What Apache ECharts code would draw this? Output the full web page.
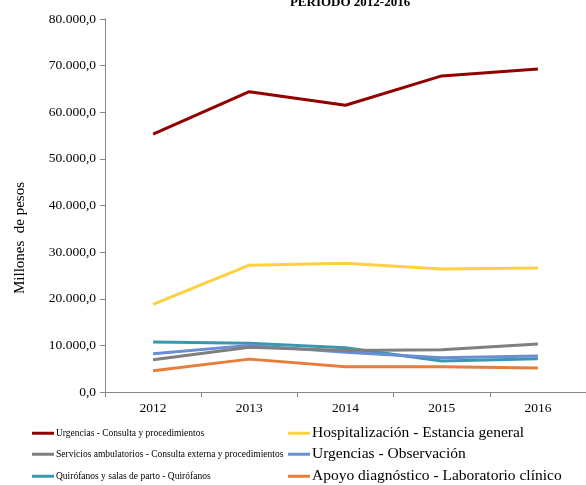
<!DOCTYPE html>
<html><head><meta charset="utf-8">
<script src="https://cdn.jsdelivr.net/npm/echarts@6/dist/echarts.min.js"></script>
<style>html,body{margin:0;padding:0;background:#fff}#c{width:586px;height:485px}</style>
</head><body><div id="c"></div>
<script>
const years = ['2012','2013','2014','2015','2016'];
const urgConsulta = [55300, 64400, 61500, 67800, 69300];
const hospEstancia = [18800, 27200, 27600, 26400, 26600];
const servAmb = [6900, 9600, 8900, 9050, 10300];
const urgObs = [8200, 10000, 8500, 7350, 7700];
const quirofanos = [10700, 10450, 9500, 6650, 7150];
const apoyoLab = [4550, 7050, 5400, 5400, 5150];
const names = ['Urgencias - Consulta y procedimientos','Hospitalización - Estancia general','Servicios ambulatorios - Consulta externa y procedimientos','Urgencias - Observación','Quirófanos y salas de parto - Quirófanos','Apoyo diagnóstico - Laboratorio clínico'];
const colors = ['#900000','#FFD03F','#7F7F7F','#6A8ED2','#3A97B0','#E57D3B'];
const datas = [urgConsulta, hospEstancia, servAmb, urgObs, quirofanos, apoyoLab];
const serif = '"Liberation Serif","DejaVu Serif",serif';
function fmt(v){
  const s = Math.round(v).toString().replace(/\B(?=(\d{3})+(?!\d))/g,'.');
  return s + ',0';
}
const rowY = [434, 455, 477];
const legends = names.map((n,i)=>{
  const col = i % 2, row = Math.floor(i/2);
  const fs = col === 0 ? 9.5 : 15.5;
  return {orient:'horizontal',left: col === 0 ? 32 : 288, top: rowY[row] - fs/2 - 1, padding:0,
    itemWidth:22,itemHeight:3,icon:'rect',data:[{name:n}],
    textStyle:{fontFamily:serif,fontSize:fs,color:'#000',padding:[0,0,0,-3]}};
});
const chart = echarts.init(document.getElementById('c'));
chart.setOption({
  animation:false,
  title:{text:'PERIODO 2012-2016',left:345,top:-9,textAlign:'center',textStyle:{fontFamily:serif,fontWeight:'bold',fontSize:13,color:'#000'}},
  graphic:[{type:'text',x:20,y:238,rotation:Math.PI/2,
    style:{text:'Millones  de pesos',font:'15px "Liberation Serif", serif',fill:'#000',textAlign:'center',textVerticalAlign:'middle'}}],
  grid:{left:105,top:19,width:486,height:373,containLabel:false},
  xAxis:{type:'category',data:years,boundaryGap:true,
    axisLine:{lineStyle:{color:'#868686',width:1}},
    axisTick:{show:true,length:5,lineStyle:{color:'#868686'}},
    axisLabel:{fontFamily:serif,fontSize:13.5,color:'#000',margin:9}},
  yAxis:{type:'value',min:0,max:80000,interval:10000,
    axisLine:{show:true,lineStyle:{color:'#868686',width:1}},
    axisTick:{show:true,length:5,lineStyle:{color:'#868686'}},
    splitLine:{show:false},
    axisLabel:{fontFamily:serif,fontSize:13.5,color:'#000',margin:9,formatter:fmt}},
  legend: legends,
  series: datas.map((d,i)=>({name:names[i],type:'line',data:d,symbol:'none',
    lineStyle:{color:colors[i],width:3},itemStyle:{color:colors[i]},z:10-i}))
});
</script></body></html>
